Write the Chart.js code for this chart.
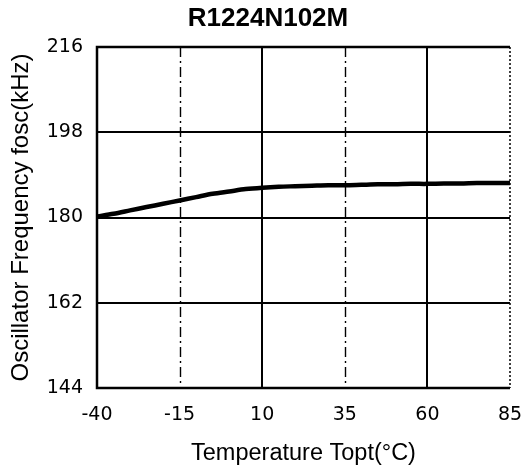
<!DOCTYPE html>
<html>
<head>
<meta charset="utf-8">
<script src="https://cdn.jsdelivr.net/npm/chart.js@4/dist/chart.umd.min.js"></script>
<style>
  html, body { margin: 0; padding: 0; background: #fff; }
  #wrap { width: 529px; height: 466px; }
</style>
</head>
<body>
<div id="wrap"><canvas id="myChart"></canvas></div>
<script>
// temperature (°C) and oscillator frequency (kHz)
const temps = [-40, -35, -30, -25, -20, -15, -10, -5, 0, 5, 10, 15, 20, 25, 30, 35, 40, 45, 50, 55, 60, 65, 70, 75, 80, 85];
const freqs = [180.2, 180.8, 181.5, 182.2, 182.9, 183.6, 184.3, 185.0, 185.5, 186.0, 186.3, 186.5, 186.6, 186.7, 186.8, 186.8, 186.9, 187.0, 187.0, 187.1, 187.1, 187.2, 187.2, 187.3, 187.3, 187.3];
const xTicks = [-40, -15, 10, 35, 60, 85];
const yTicks = [144, 162, 180, 198, 216];
const solidX = [10, 60];
const dashDotX = [-15, 35];
const hLines = [162, 180, 198];

const tickFont = { family: "DejaVu Sans, sans-serif", size: 19 };

// grid lines and frame, drawn through the scales
const gridPlugin = {
  id: "grid",
  beforeDatasetsDraw(chart) {
    const { ctx, chartArea: a, scales: { x, y } } = chart;
    ctx.save();
    ctx.strokeStyle = "#000";
    ctx.lineWidth = 2;
    solidX.forEach(v => {
      const px = Math.round(x.getPixelForValue(v));
      ctx.beginPath(); ctx.moveTo(px, a.top); ctx.lineTo(px, a.bottom); ctx.stroke();
    });
    ctx.lineWidth = 1.4;
    ctx.setLineDash([10, 4, 2, 4]);
    dashDotX.forEach(v => {
      const px = Math.round(x.getPixelForValue(v)) + 0.5;
      ctx.beginPath(); ctx.moveTo(px, a.top); ctx.lineTo(px, a.bottom); ctx.stroke();
    });
    ctx.setLineDash([]);
    ctx.lineWidth = 2;
    hLines.forEach(v => {
      const py = Math.round(y.getPixelForValue(v));
      ctx.beginPath(); ctx.moveTo(a.left, py); ctx.lineTo(a.right, py); ctx.stroke();
    });
    // frame
    ctx.lineWidth = 2.5;
    ctx.beginPath();
    ctx.moveTo(a.right, a.top); ctx.lineTo(a.left, a.top);
    ctx.lineTo(a.left, a.bottom); ctx.lineTo(a.right, a.bottom);
    ctx.stroke();
    ctx.lineWidth = 1.5;
    ctx.setLineDash([2, 2]);
    ctx.beginPath(); ctx.moveTo(a.right, a.top); ctx.lineTo(a.right, a.bottom); ctx.stroke();
    ctx.restore();
  }
};

new Chart(document.getElementById("myChart"), {
  type: "line",
  data: {
    datasets: [{
      data: temps.map((t, i) => ({ x: t, y: freqs[i] })),
      borderColor: "#000",
      borderWidth: 4.5,
      pointRadius: 0,
      tension: 0.3
    }]
  },
  options: {
    responsive: true,
    maintainAspectRatio: false,
    animation: false,
    layout: { padding: { left: 26, right: 19, top: 0, bottom: 0 } },
    plugins: {
      legend: { display: false },
      tooltip: { enabled: false },
      title: {
        display: true,
        text: "R1224N102M",
        color: "#000",
        font: { family: "Liberation Sans, Arial, sans-serif", size: 26, weight: "bold" },
        padding: { top: 3.4, bottom: 12.4 }
      }
    },
    scales: {
      x: {
        type: "linear",
        min: -40, max: 85,
        afterBuildTicks: s => { s.ticks = xTicks.map(v => ({ value: v })); },
        afterFit: s => { s.height = 78; s.paddingLeft = 0; s.paddingRight = 0; },
        grid: { display: false, drawTicks: false, tickLength: 0 },
        border: { display: false },
        ticks: { color: "#000", font: tickFont, padding: 16, maxRotation: 0 },
        title: {
          display: true,
          text: "Temperature Topt(°C)",
          color: "#000",
          font: { family: "Liberation Sans, Arial, sans-serif", size: 23.5 },
          padding: { top: 0, bottom: -2 }
        }
      },
      y: {
        min: 144, max: 216,
        afterBuildTicks: s => { s.ticks = yTicks.map(v => ({ value: v })); },
        afterFit: s => { s.width = 71; },
        grid: { display: false, drawTicks: false, tickLength: 0 },
        border: { display: false },
        ticks: { color: "#000", font: tickFont, padding: 14 },
        title: {
          display: true,
          text: "Oscillator Frequency fosc(kHz)",
          color: "#000",
          font: { family: "Liberation Sans, Arial, sans-serif", size: 24, lineHeight: 0.6 },
          padding: { top: -12, bottom: 0 }
        }
      }
    }
  },
  plugins: [gridPlugin]
});
</script>
</body>
</html>
